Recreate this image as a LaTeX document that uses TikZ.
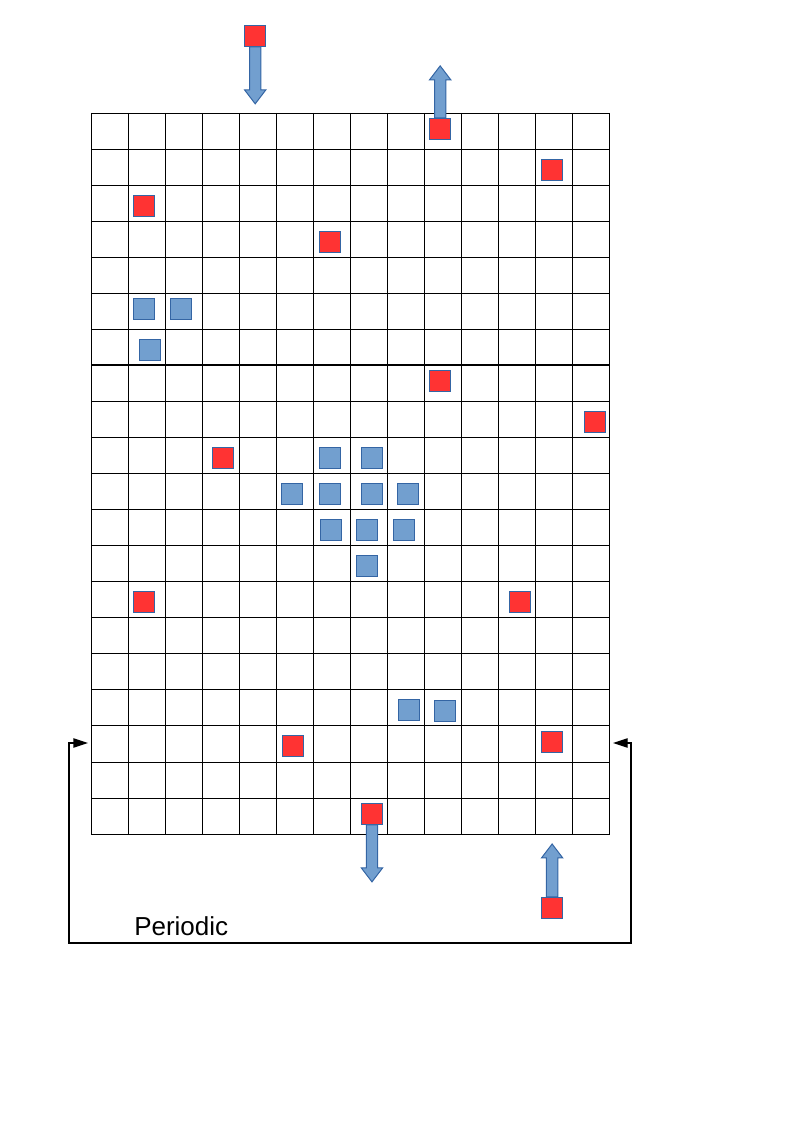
\documentclass[tikz,border=0pt]{standalone}
\usepackage{fontspec}
\setmainfont{Liberation Sans}
\usetikzlibrary{arrows.meta,calc}
\definecolor{sqred}{HTML}{FF3333}
\definecolor{sqblue}{HTML}{729FCF}
\definecolor{edgeblue}{HTML}{3465A4}
% fat vertical arrow from a square anchor to a tip
\newcommand{\fatarrow}[2]{%
    \draw[fatarr] let \p1=(#1), \p2=(#2), \n1={ifthenelse(\y2>\y1,-10.5pt,10.5pt)} in
        (\x1-4.25pt,\y1) -- (\x1-4.25pt,\y2+\n1) -- (\x1-8pt,\y2+\n1) -- (\x1,\y2)
        -- (\x1+8pt,\y2+\n1) -- (\x1+4.25pt,\y2+\n1) -- (\x1+4.25pt,\y1) -- cycle;}
\begin{document}
\begin{tikzpicture}[x=0.75pt,y=-0.75pt,
        redsq/.style={draw=edgeblue,fill=sqred,line width=0.75pt,minimum size=15.75pt,inner sep=0pt},
        bluesq/.style={redsq,fill=sqblue},
        fatarr/.style={draw=edgeblue,fill=sqblue,line width=0.75pt},
        loopline/.style={line width=1pt,>={Triangle[length=11pt,width=7pt]},<->}]
        \useasboundingbox (0,0) rectangle (794,1123);
        \begin{scope}[shift={(91,113)},x=27.80pt,y=-27.04pt]
            \foreach \c in {0,...,14}
                \draw[line width=0.7pt] (\c,0) -- (\c,20);
            \foreach \r in {0,...,20}
                \draw[line width=0.7pt] (0,\r) -- (14,\r);
            \draw[line width=1.5pt] (0,7) -- (14,7);
            % particles
            \foreach \c/\r [count=\i] in {9.42/0.44, 12.44/1.57, 1.44/2.57, 6.45/3.57,
                    9.42/7.44, 13.59/8.56, 3.56/9.56, 1.43/13.57, 11.57/13.57,
                    5.44/17.56, 12.44/17.44, 7.58/19.44}
                \node[redsq] (r\i) at (\c,\r) {};
            \node[redsq] (rtop) at (4.43,-2.14) {};
            \node[redsq] (rbot) at (12.44,22.05) {};
            \foreach \c/\r [count=\i] in {1.44/5.44, 2.42/5.44, 1.58/6.57, 6.45/9.56,
                    7.59/9.56, 5.43/10.56, 6.45/10.56, 7.58/10.57, 8.56/10.57,
                    6.47/11.57, 7.45/11.56, 8.44/11.56, 7.45/12.56, 8.57/16.57, 9.55/16.58}
                \node[bluesq] (b\i) at (\c,\r) {};
        \end{scope}
        % in and out
        \path (rtop.south) ++(0,57) coordinate (tipin);
        \path (r1.north) ++(0,-52) coordinate (tipout);
        \path (r12.south) ++(0,57) coordinate (tipdown);
        \path (rbot.north) ++(0,-53) coordinate (tipup);
        \fatarrow{rtop.south}{tipin}
        \fatarrow{r1.north}{tipout}
        \fatarrow{r12.south}{tipdown}
        \fatarrow{rbot.north}{tipup}
        % periodic boundary
        \coordinate (inL) at (88,743);
        \coordinate (inR) at (613,743);
        \coordinate (cornL) at (69,943);
        \coordinate (cornR) at (631,943);
        \draw[loopline] (inL) -| (cornL) -- (cornR) |- (inR);
        \node[anchor=base west,inner sep=0pt,font=\fontsize{19.5}{23}\selectfont] (lbl) at (134,935) {Periodic};
\end{tikzpicture}
\end{document}
